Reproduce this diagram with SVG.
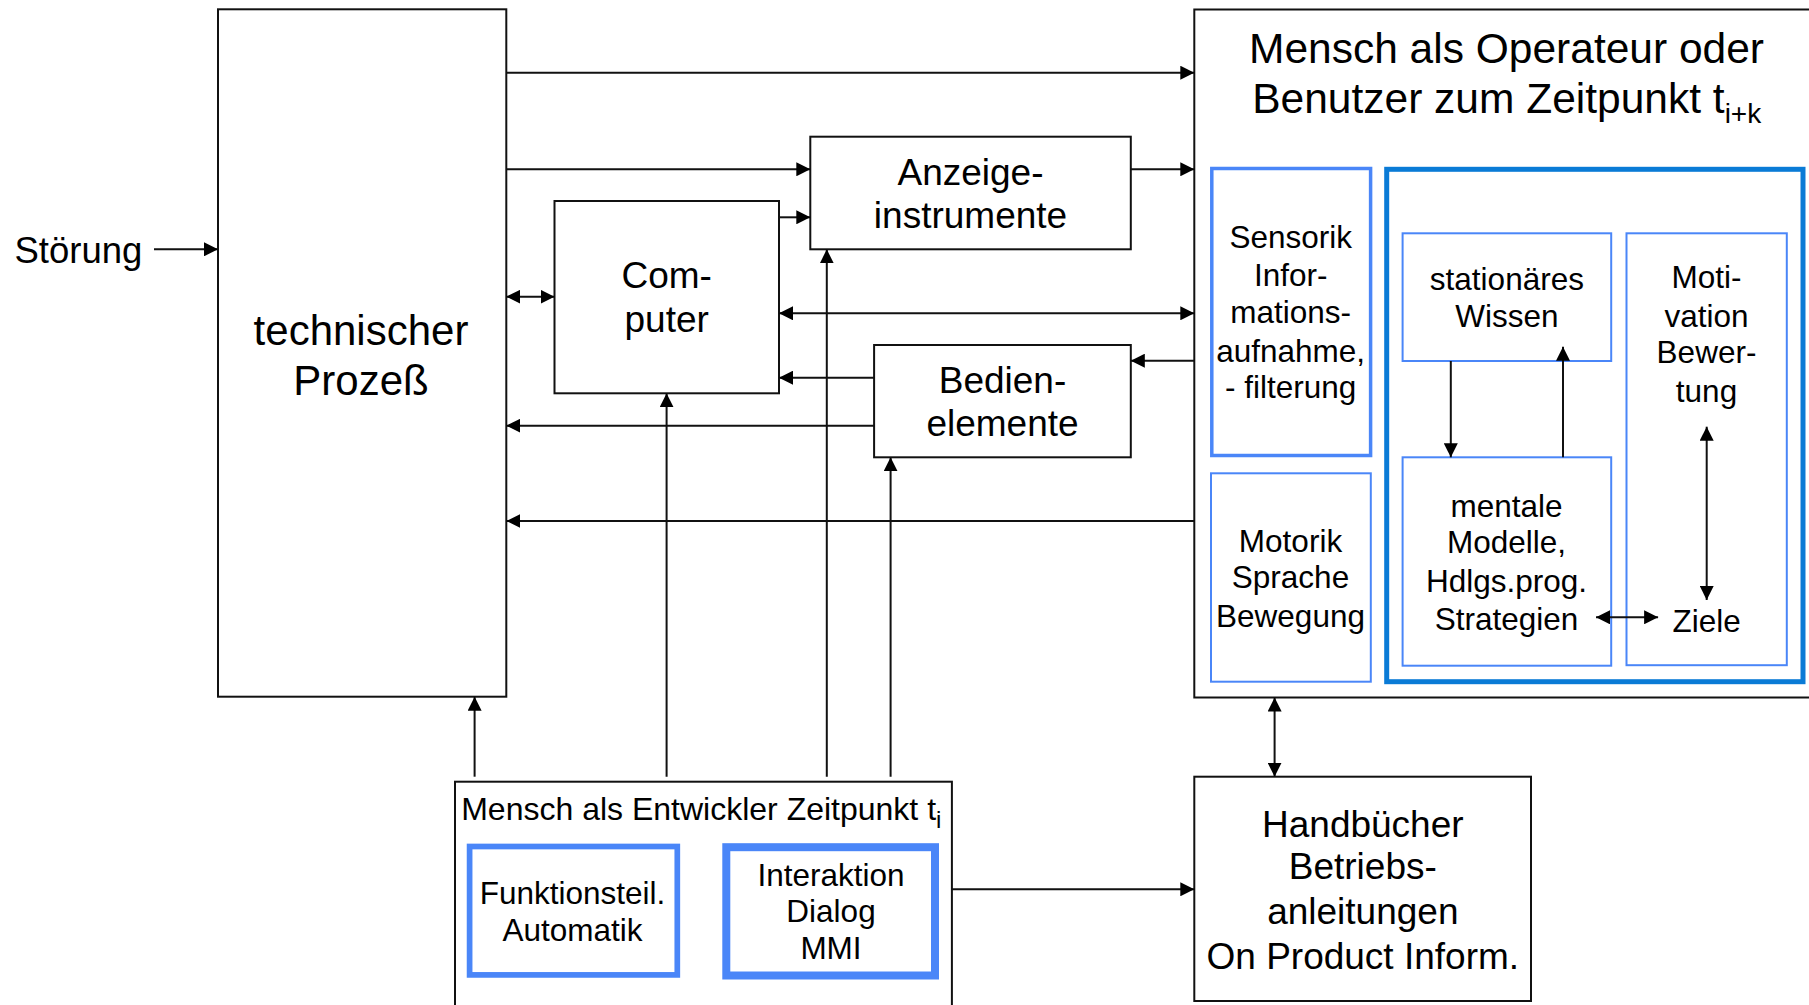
<svg xmlns="http://www.w3.org/2000/svg" width="1809" height="1005" viewBox="0 0 1809 1005">
<style>
text{font-family:"Liberation Sans",Arial,sans-serif;fill:#000}
.m{text-anchor:middle}
.f37{font-size:37px}
.f31{font-size:31.5px}
.box{fill:#fff;stroke:#111;stroke-width:2}
.lb{fill:none;stroke:#4a86f8}
.c{fill:none;stroke:#111;stroke-width:2}
.a{marker-end:url(#ah)}
.d{marker-start:url(#ah);marker-end:url(#ah)}
</style>
<defs>
<marker id="ah" markerUnits="userSpaceOnUse" markerWidth="15" markerHeight="14" refX="14" refY="7" orient="auto-start-reverse">
<path d="M0,0 L14,7 L0,14 z" fill="#000"/>
</marker>
</defs>
<rect width="1809" height="1005" fill="#fff"/>

<g id="prozess">
<rect class="box" x="218" y="9.3" width="288.3" height="687.4"/>
<text class="m" x="361" y="345" font-size="42">technischer</text>
<text class="m" x="361" y="395" font-size="42">Prozeß</text>
</g>

<g id="stoerung">
<text x="14.5" y="263.3" font-size="36.5">Störung</text>
</g>

<g id="anzeige">
<rect class="box" x="810.3" y="136.7" width="320.5" height="112.6"/>
<text class="m f37" x="970.5" y="185">Anzeige-</text>
<text class="m f37" x="970.5" y="228.3">instrumente</text>
</g>

<g id="computer">
<rect class="box" x="554.5" y="201" width="224.5" height="192.3"/>
<text class="m f37" x="666.7" y="288.3">Com-</text>
<text class="m f37" x="666.7" y="331.7">puter</text>
</g>

<g id="bedien">
<rect class="box" x="874.1" y="345" width="256.7" height="112.3"/>
<text class="m f37" x="1002.5" y="393.3">Bedien-</text>
<text class="m f37" x="1002.5" y="436">elemente</text>
</g>

<g id="operateur">
<rect class="box" x="1194.3" y="9.5" width="620" height="688"/>
<text x="1249" y="62.7" font-size="42.5">Mensch als Operateur oder</text>
<text x="1252.2" y="113.3" font-size="42.5">Benutzer zum Zeitpunkt t<tspan font-size="28" dy="10">i+k</tspan></text>
</g>

<g id="sensorik">
<rect class="lb" stroke-width="3.5" x="1211.8" y="168.5" width="158.8" height="287"/>
<text class="m f31" x="1290.7" y="248.3">Sensorik</text>
<text class="m f31" x="1290.7" y="286">Infor-</text>
<text class="m f31" x="1290.7" y="323.3">mations-</text>
<text class="m f31" x="1290.7" y="361.7">aufnahme,</text>
<text class="m f31" x="1290.7" y="398.3">- filterung</text>
</g>

<g id="motorik">
<rect class="lb" stroke-width="2" x="1211" y="473.3" width="159.8" height="208.4"/>
<text class="m f31" x="1290.5" y="551.7">Motorik</text>
<text class="m f31" x="1290.5" y="588.3">Sprache</text>
<text class="m f31" x="1290.5" y="626.7">Bewegung</text>
</g>

<g id="kognition">
<rect fill="none" stroke="#0a7bd6" stroke-width="5" x="1386.7" y="169.3" width="416.3" height="512.4"/>
</g>

<g id="wissen">
<rect class="lb" stroke-width="2" x="1402.6" y="233.3" width="208.6" height="127.7"/>
<text class="m f31" x="1506.9" y="290">stationäres</text>
<text class="m f31" x="1506.9" y="326.7">Wissen</text>
</g>

<g id="mentale">
<rect class="lb" stroke-width="2" x="1402.6" y="457.3" width="208.6" height="208.4"/>
<text class="m f31" x="1506.5" y="516.7">mentale</text>
<text class="m f31" x="1506.5" y="553.3">Modelle,</text>
<text class="m f31" x="1506.5" y="591.7">Hdlgs.prog.</text>
<text class="m f31" x="1506.5" y="630">Strategien</text>
</g>

<g id="motivation">
<rect class="lb" stroke-width="2" x="1626.5" y="233.3" width="160.3" height="431.9"/>
<text class="m f31" x="1706.5" y="288.3">Moti-</text>
<text class="m f31" x="1706.5" y="326.7">vation</text>
<text class="m f31" x="1706.5" y="363.3">Bewer-</text>
<text class="m f31" x="1706.5" y="401.7">tung</text>
<text class="m f31" x="1706.7" y="631.7">Ziele</text>
</g>

<g id="handbuecher">
<rect class="box" x="1194.3" y="776.7" width="336.7" height="224.3"/>
<text class="m f37" x="1362.8" y="836.7">Handbücher</text>
<text class="m f37" x="1362.8" y="879.3">Betriebs-</text>
<text class="m f37" x="1362.8" y="924">anleitungen</text>
<text class="m f37" x="1362.8" y="969.3">On Product Inform.</text>
</g>

<g id="entwickler">
<rect class="box" x="455" y="781.7" width="496.9" height="240"/>
<text x="461.2" y="820" font-size="32">Mensch als Entwickler Zeitpunkt t<tspan font-size="24" dy="8.3">i</tspan></text>
</g>

<g id="funktionsteil">
<rect class="lb" stroke-width="5.7" x="469.6" y="846.5" width="207.7" height="128.4"/>
<text class="m f31" x="572.5" y="904">Funktionsteil.</text>
<text class="m f31" x="572.5" y="940.7">Automatik</text>
</g>

<g id="interaktion">
<rect class="lb" stroke-width="8" x="726.3" y="847.2" width="208.7" height="128.3"/>
<text class="m f31" x="831" y="885.7">Interaktion</text>
<text class="m f31" x="831" y="921.7">Dialog</text>
<text class="m f31" x="831" y="959">MMI</text>
</g>

<g id="connectors">
<path class="c a" d="M154,249.3 H218"/>
<path class="c a" d="M506.3,72.7 H1194.3"/>
<path class="c a" d="M506.3,169.3 H810.3"/>
<path class="c d" d="M506.3,296.7 H554.5"/>
<path class="c a" d="M779,217.3 H810.3"/>
<path class="c a" d="M1130.8,169.3 H1194.3"/>
<path class="c d" d="M779,313.3 H1194.3"/>
<path class="c a" d="M1194.3,360.7 H1130.8"/>
<path class="c a" d="M874.1,377.7 H779"/>
<path class="c a" d="M874.1,425.7 H506.3"/>
<path class="c a" d="M1194.3,521 H506.3"/>
<path class="c a" d="M474.6,776.7 V696.7"/>
<path class="c a" d="M666.6,776.7 V393.3"/>
<path class="c a" d="M826.8,776.7 V249.3"/>
<path class="c a" d="M890.6,776.7 V457.3"/>
<path class="c a" d="M951.9,889.3 H1194.3"/>
<path class="c d" d="M1274.6,697.5 V776.7"/>
<path class="c a" d="M1450.8,361 V457.3"/>
<path class="c a" d="M1563,457.3 V346.7"/>
<path class="c d" d="M1706.7,426.7 V600"/>
<path class="c d" d="M1596,617.3 H1658.1"/>
</g>
</svg>
